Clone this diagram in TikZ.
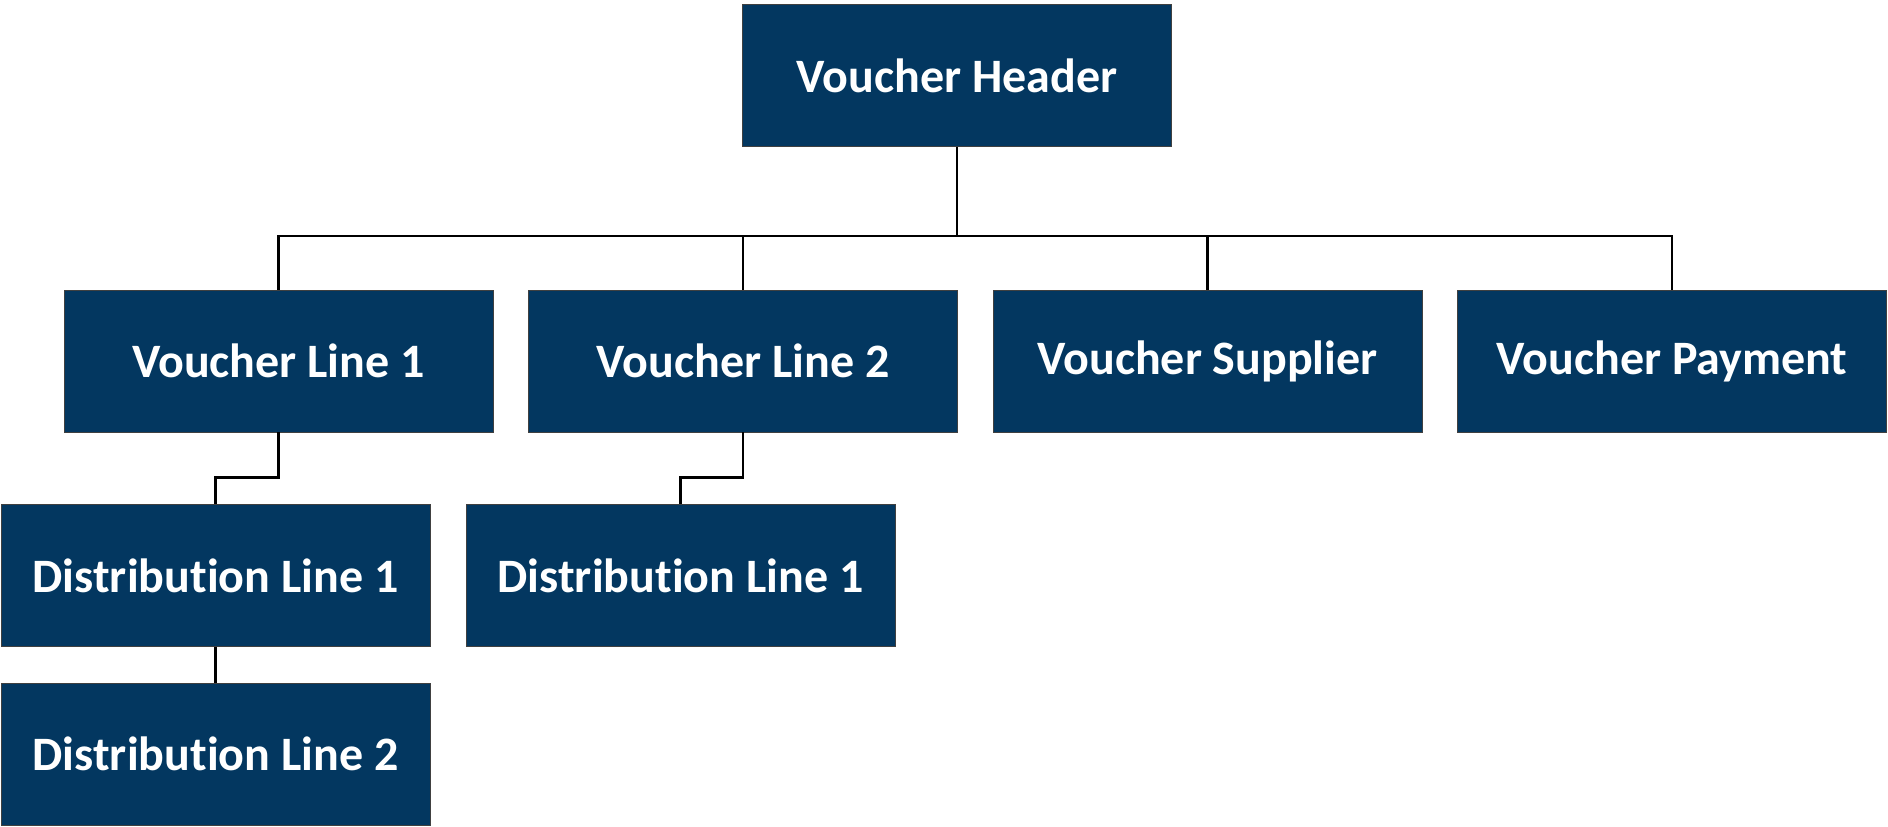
\documentclass[tikz,border=0pt]{standalone}
\usepackage{fontspec}
\setmainfont{Carlito}[Ligatures=NoCommon]
\definecolor{boxblue}{RGB}{3,55,96}
\tikzset{
	unit/.style={draw=black!75, fill=boxblue, text=white, font=\fontsize{24}{28}\selectfont\bfseries,
		minimum width=214.5pt, minimum height=71pt, inner sep=0pt},
	link/.style={line width=1.1pt, black}
}

\begin{document}
\begin{tikzpicture}[x=0.5pt, y=0.5pt]

	\useasboundingbox (0, 0) rectangle (1888, 826);

	\node[unit] (head) at (957, 750.5) {Voucher Header};

	\node[unit] (vla) at (278.5, 465) {Voucher Line 1};
	\node[unit] (vlb) at (743, 465) {Voucher Line 2};
	\node[unit] (vsup) at (1207.5, 465) {Voucher Supplier};
	\node[unit] (vpay) at (1672, 465) {Voucher Payment};

	\node[unit] (dla) at (215.5, 250.5) {Distribution Line 1};
	\node[unit] (dlc) at (680.5, 250.5) {Distribution Line 1};
	\node[unit] (dlb) at (215.5, 72) {Distribution Line 2};

	\foreach \n in {vla, vlb, vsup, vpay} {
		\draw [link] (head.south) -- ++(0, -89) -| (\n.north);
	}

	\draw [link] (vla.south) -- ++(0, -45) -| (dla.north);
	\draw [link] (vlb.south) -- ++(0, -45) -| (dlc.north);
	\draw [link] (dla.south) -- (dlb.north);
\end{tikzpicture}
\end{document}
